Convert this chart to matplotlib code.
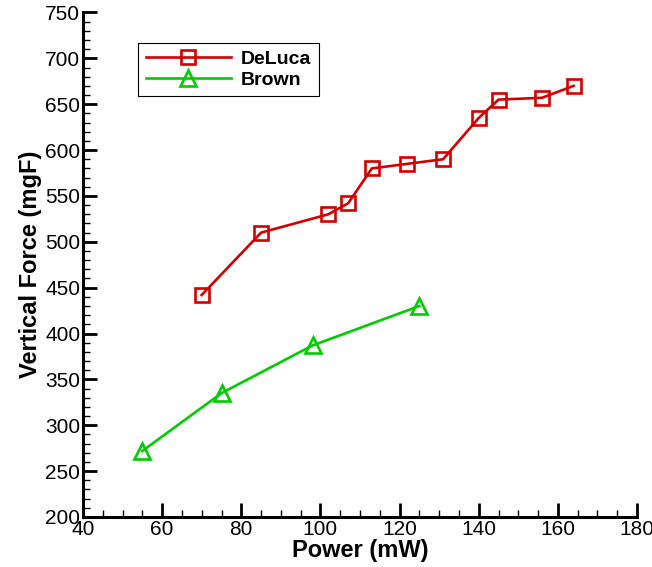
import matplotlib
matplotlib.use('Agg')
import matplotlib.pyplot as plt
from matplotlib.ticker import MultipleLocator

plt.rcParams['font.family'] = ['Liberation Sans', 'DejaVu Sans']

# # Data
deluca_power = [70, 85, 102, 107, 113, 122, 131, 140, 145, 156, 164]
deluca_force = [442, 510, 530, 542, 580, 585, 590, 635, 655, 657, 670]

brown_power = [55, 75, 98, 125]
brown_force = [272, 335, 387, 430]

red = '#d40000'
green = '#00cc00'

fig = plt.figure(figsize=(6.52, 5.67), dpi=100)
ax = fig.add_axes([0.1273, 0.0882, 0.8497, 0.8898])

ax.plot(deluca_power, deluca_force, color=red, lw=1.9, marker='s', ms=10,
        mfc='none', mec=red, mew=1.9, label='DeLuca')
ax.plot(brown_power, brown_force, color=green, lw=1.9, marker='^', ms=12,
        mfc='none', mec=green, mew=1.9, label='Brown')

ax.set_xlim(40, 180)
ax.set_ylim(200, 750)
ax.xaxis.set_major_locator(MultipleLocator(20))
ax.xaxis.set_minor_locator(MultipleLocator(5))
ax.yaxis.set_major_locator(MultipleLocator(50))
ax.yaxis.set_minor_locator(MultipleLocator(10))

ax.spines['top'].set_visible(False)
ax.spines['right'].set_visible(False)
ax.spines['left'].set_linewidth(2.2)
ax.spines['bottom'].set_linewidth(2.2)

ax.tick_params(which='major', direction='in', length=10, width=2, labelsize=15, pad=2)
ax.tick_params(which='minor', direction='in', length=5, width=1)

ax.set_xlabel('Power (mW)', fontsize=17, fontweight='bold', labelpad=0)
ax.set_ylabel('Vertical Force (mgF)', fontsize=17, fontweight='bold', labelpad=2)

leg = ax.legend(loc='upper left', bbox_to_anchor=(0.099, 0.94), handlelength=4.4,
                prop={'weight': 'bold', 'size': 14},
                fancybox=False, framealpha=1, borderpad=0.4, labelspacing=0.15,
                handletextpad=0.5, borderaxespad=0)
leg.get_frame().set_edgecolor('black')
leg.get_frame().set_linewidth(0.8)

plt.savefig('out.png', dpi=100)
